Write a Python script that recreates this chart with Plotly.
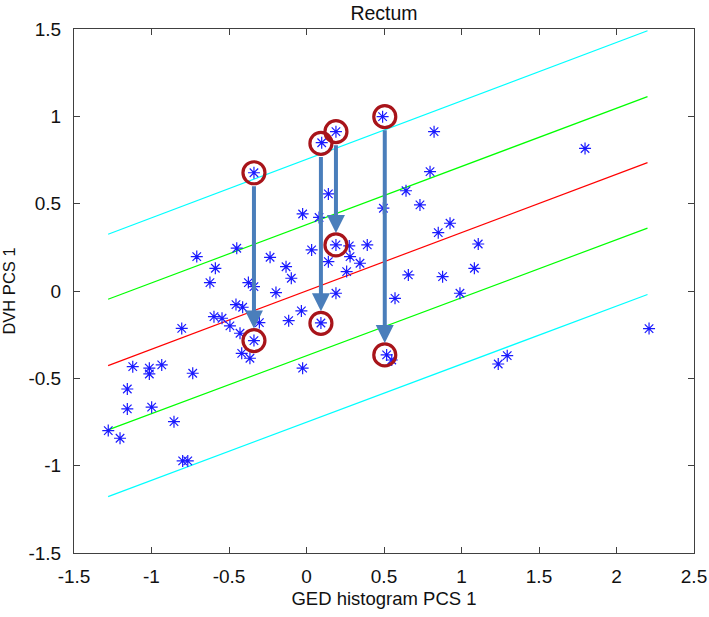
import plotly.graph_objects as go

# ---------------- data ----------------
pts_x = [-0.339, -0.025, 0.081, -0.708, -0.45, -0.588, -0.623, -0.235, 0.033, -0.132,
         -0.098, -0.375, -0.339, -0.197, -0.455, -0.412, -0.597, -0.545, -0.494, -0.805,
         -0.304, -0.115, -0.033, -0.429, -0.339, 0.093, -0.418, -0.365, -1.121, -1.014,
         -1.014, -0.934, -0.734, -1.156, -1.156, -0.999, -0.855, -1.279, -1.203, -0.799,
         -0.766, -0.025, 0.098, 0.190, 0.491, 0.823, 0.797, 0.642, 0.732, 0.141,
         0.496, 0.926, 0.850, 1.108, 0.190, 0.276, 0.392, 0.281, 0.141, 0.345,
         0.259, 0.657, 0.878, 1.083, 0.190, 0.571, 0.990, 0.517, 0.55, 1.237,
         1.295, 1.797, 2.21]
pts_y = [0.677, 0.441, 0.421, 0.197, 0.245, 0.130, 0.048, 0.193, 0.235, 0.139,
         0.073, 0.048, 0.025, -0.009, -0.078, -0.093, -0.147, -0.156, -0.2, -0.214,
         -0.181, -0.170, -0.114, -0.242, -0.284, -0.183, -0.357, -0.385, -0.433, -0.442,
         -0.475, -0.423, -0.471, -0.561, -0.675, -0.665, -0.748, -0.799, -0.843, -0.973,
         -0.973, -0.442, 0.849, 0.912, 0.998, 0.912, 0.683, 0.574, 0.493, 0.556,
         0.474, 0.388, 0.334, 0.269, 0.264, 0.258, 0.264, 0.197, 0.168, 0.159,
         0.111, 0.092, 0.082, 0.130, -0.013, -0.042, -0.013, -0.366, -0.395, -0.418,
         -0.37, 0.816, -0.215]

# circled pairs: (before -> after)
circ_top_x = [-0.339, 0.093, 0.190, 0.505]
circ_top_y = [0.677, 0.845, 0.912, 0.998]
circ_bot_x = [-0.339, 0.093, 0.190, 0.505]
circ_bot_y = [-0.284, -0.185, 0.264, -0.366]

# regression line and bands (endpoints)
line_x = [-1.28, 2.2]
red_y = [-0.427, 0.735]
green_hi_y = [-0.047, 1.113]
green_lo_y = [-0.795, 0.36]
cyan_hi_y = [0.325, 1.49]
cyan_lo_y = [-1.177, -0.02]

xticks = [-1.5, -1, -0.5, 0, 0.5, 1, 1.5, 2, 2.5]
yticks = [-1.5, -1, -0.5, 0, 0.5, 1, 1.5]
tick_text_x = ["-1.5", "-1", "-0.5", "0", "0.5", "1", "1.5", "2", "2.5"]
tick_text_y = ["-1.5", "-1", "-0.5", "0", "0.5", "1", "1.5"]

FONT = "Liberation Sans, Arial, sans-serif"
TXT = "#111111"

fig = go.Figure()
for yy, col in [(cyan_hi_y, "#00FFFF"), (green_hi_y, "#00FF00"), (red_y, "#FF0000"),
                (green_lo_y, "#00FF00"), (cyan_lo_y, "#00FFFF")]:
    fig.add_trace(go.Scatter(x=line_x, y=yy, mode="lines",
                             line=dict(color=col, width=1.2), showlegend=False,
                             hoverinfo="skip"))

fig.add_trace(go.Scatter(x=pts_x, y=pts_y, mode="markers", showlegend=False,
                         marker=dict(symbol="asterisk-open", size=10, color="#1a1aff",
                                     line=dict(color="#1a1aff", width=1.2))))

fig.add_trace(go.Scatter(x=circ_top_x + circ_bot_x, y=circ_top_y + circ_bot_y,
                         mode="markers", showlegend=False,
                         marker=dict(symbol="circle-open", size=22, color="#A8141A",
                                     line=dict(color="#A8141A", width=3.2))))

for i in range(len(circ_top_x)):
    fig.add_annotation(x=circ_bot_x[i], y=circ_bot_y[i], ax=circ_top_x[i], ay=circ_top_y[i],
                       xref="x", yref="y", axref="x", ayref="y", text="",
                       showarrow=True, arrowhead=2, arrowsize=0.9, arrowwidth=4,
                       arrowcolor="#4A7EBB", standoff=12, startstandoff=12)

axis_common = dict(showgrid=False, zeroline=False, showline=True, linecolor="#404040",
                   linewidth=1, mirror="ticks", ticks="inside", ticklen=6,
                   tickcolor="#404040", automargin=False,
                   tickfont=dict(family=FONT, size=19, color=TXT))

fig.update_layout(
    width=709, height=617,
    margin=dict(l=74, r=15, t=29, b=64),
    paper_bgcolor="white", plot_bgcolor="white",
    title=dict(text="Rectum", x=0.5416, xanchor="center", xref="container",
               y=0.979, yanchor="middle", yref="container",
               font=dict(family=FONT, size=19.5, color=TXT)),
    xaxis=dict(range=[-1.5, 2.5], tickvals=xticks, ticktext=tick_text_x,
               title=dict(text="GED histogram PCS 1", standoff=6,
                          font=dict(family=FONT, size=18.5, color=TXT)),
               ticklabelstandoff=6, **axis_common),
    yaxis=dict(range=[-1.5, 1.5], tickvals=yticks, ticktext=tick_text_y,
               title=dict(text="DVH PCS 1", standoff=10,
                          font=dict(family=FONT, size=16.5, color=TXT)),
               ticklabelstandoff=8, **axis_common),
)

fig.write_html("out.html", config={"displayModeBar": False},
               post_script="document.body.style.margin='0px';")
